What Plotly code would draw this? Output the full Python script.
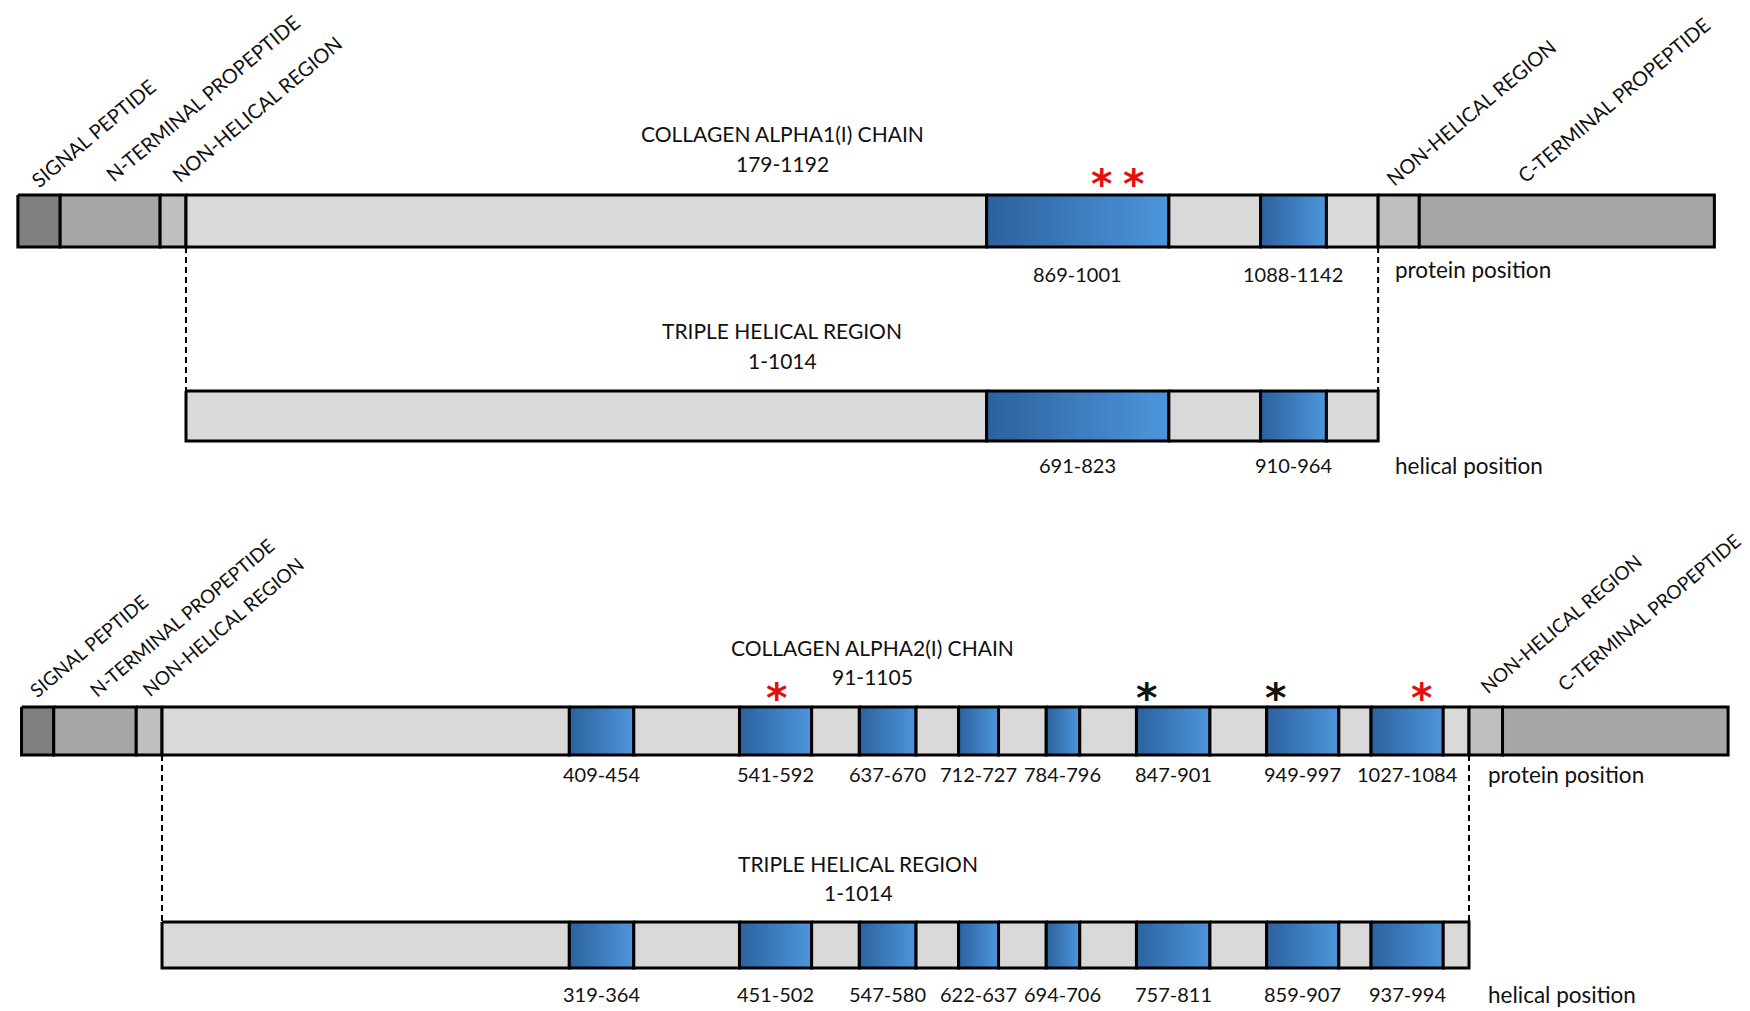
import plotly.graph_objects as go

# Collagen type I chains, drawn as segment maps.
# x units: helical residue positions (helix start = 0); non-helical parts are
# drawn widths (not to scale in the original).

N_TERM_NAMES = ["SIGNAL PEPTIDE", "N-TERMINAL PROPEPTIDE", "NON-HELICAL REGION"]
C_TERM_NAMES = ["NON-HELICAL REGION", "C-TERMINAL PROPEPTIDE"]
N_TERM_COLORS = ["#7f7f7f", "#a6a6a6", "#bfbfbf"]
C_TERM_COLORS = ["#bfbfbf", "#a6a6a6"]

# alpha1(I)
A1_TITLE = ["COLLAGEN ALPHA1(I) CHAIN", "179-1192"]
A1_N_TERM = [36, 85, 22]
A1_C_TERM = [35, 251]
A1_HELIX_EDGES = [0, 681, 836, 914, 970, 1014]
A1_PROTEIN_POS = ["869-1001", "1088-1142"]
A1_HELICAL_POS = ["691-823", "910-964"]
A1_STAR_X = [779, 806]
A1_STAR_COLOR = ["#e01010", "#e01010"]

# alpha2(I)
A2_TITLE = ["COLLAGEN ALPHA2(I) CHAIN", "91-1105"]
A2_N_TERM = [25, 64, 20]
A2_C_TERM = [26, 175]
A2_HELIX_EDGES = [0, 316, 366, 448, 504, 541, 585, 618, 649, 686, 712,
                  756, 813, 857, 913, 938, 994, 1014]
A2_PROTEIN_POS = ["409-454", "541-592", "637-670", "712-727", "784-796",
                  "847-901", "949-997", "1027-1084"]
A2_HELICAL_POS = ["319-364", "451-502", "547-580", "622-637", "694-706",
                  "757-811", "859-907", "937-994"]
A2_STAR_X = [477, 764, 864, 977]
A2_STAR_COLOR = ["#e01010", "#111111", "#111111", "#e01010"]

HELIX_TITLE = ["TRIPLE HELICAL REGION", "1-1014"]

LIGHT = "#d9d9d9"
BLUE_SCALE = [[0, "#2c619e"], [1, "#4d96dc"]]
TXT = "#111111"
FONT = "Lato"

# layout (paper pixels on the y axis)
CHAINS = [
    dict(xaxis="x", n=A1_N_TERM, c=A1_C_TERM, edges=A1_HELIX_EDGES,
         ppos=A1_PROTEIN_POS, hpos=A1_HELICAL_POS, title=A1_TITLE,
         stars=(A1_STAR_X, A1_STAR_COLOR),
         prow=(195, 247), hrow=(391, 441), title_y=(133, 163), star_y=184,
         hel_title_x=507, chain_title_x=507, hel_title_y=(330, 360),
         plab_y=274, hlab_y=465, ppos_dy=-5,
         name_x=[-79, 14, 60, 1093, 1214], name_y=[133, 98, 109, 112, 100],
         name_size=20),
    dict(xaxis="x2", n=A2_N_TERM, c=A2_C_TERM, edges=A2_HELIX_EDGES,
         ppos=A2_PROTEIN_POS, hpos=A2_HELICAL_POS, title=A2_TITLE,
         stars=(A2_STAR_X, A2_STAR_COLOR),
         prow=(707, 755), hrow=(922, 968), title_y=(647, 676), star_y=698,
         hel_title_x=540, chain_title_x=551, hel_title_y=(863, 892),
         plab_y=774, hlab_y=994, ppos_dy=0,
         name_x=[-57, 15, 47, 1085, 1153], name_y=[645, 617, 626, 623, 612],
         name_size=19),
]

fig = go.Figure()


def box(xa, x0, x1, y0, y1, color=None, gradient=False):
    tr = go.Scatter(x=[x0, x1, x1, x0, x0], y=[y0, y0, y1, y1, y0],
                    xaxis=xa, yaxis="y", mode="lines", fill="toself",
                    line=dict(color="black", width=3),
                    hoverinfo="skip", showlegend=False)
    if gradient:
        tr.fillgradient = dict(type="horizontal", colorscale=BLUE_SCALE)
    else:
        tr.fillcolor = color
    fig.add_trace(tr)


ann = []


def text(xr, x, y, s, size=21, color=TXT, angle=0, xanchor="center",
         weight="normal", family=FONT):
    ann.append(dict(xref=xr, yref="y", x=x, y=y, text=s, showarrow=False,
                    textangle=angle, xanchor=xanchor, yanchor="middle",
                    font=dict(family=family, size=size, color=color, weight=weight)))


for ch in CHAINS:
    xa = ch["xaxis"]
    edges = ch["edges"]
    end = edges[-1]

    # N-terminal pieces
    x = -sum(ch["n"])
    for w, col in zip(ch["n"], N_TERM_COLORS):
        box(xa, x, x + w, *ch["prow"], color=col)
        x += w
    # helical pieces on both rows
    for row in (ch["prow"], ch["hrow"]):
        for i in range(len(edges) - 1):
            box(xa, edges[i], edges[i + 1], *row, color=LIGHT, gradient=(i % 2 == 1))
    # C-terminal pieces
    x = end
    for w, col in zip(ch["c"], C_TERM_COLORS):
        box(xa, x, x + w, *ch["prow"], color=col)
        x += w

    # dashed links between rows
    for xv in (0, end):
        fig.add_trace(go.Scatter(x=[xv, xv], y=[ch["prow"][1], ch["hrow"][0]],
                                 xaxis=xa, yaxis="y", mode="lines",
                                 line=dict(color="black", width=2, dash="6px,4px"),
                                 hoverinfo="skip", showlegend=False))

    # region names, rotated
    names = N_TERM_NAMES + C_TERM_NAMES
    for s, nx, ny in zip(names, ch["name_x"], ch["name_y"]):
        text(xa, nx, ny, s, size=ch["name_size"], angle=-40)

    text(xa, ch["chain_title_x"], ch["title_y"][0], ch["title"][0])
    text(xa, ch["chain_title_x"], ch["title_y"][1], ch["title"][1])
    text(xa, ch["hel_title_x"], ch["hel_title_y"][0], HELIX_TITLE[0])
    text(xa, ch["hel_title_x"], ch["hel_title_y"][1], HELIX_TITLE[1])

    centers = [(edges[i] + edges[i + 1]) / 2 for i in range(1, len(edges) - 1, 2)]
    for cx, p, h in zip(centers, ch["ppos"], ch["hpos"]):
        text(xa, cx, ch["plab_y"], p, size=20)
        text(xa, cx, ch["hlab_y"], h, size=20)
    text(xa, end + 13, ch["plab_y"] + ch["ppos_dy"], "protein position",
         size=22.5, xanchor="left")
    text(xa, end + 13, ch["hlab_y"], "helical position", size=22.5, xanchor="left")

    for sx, sc in zip(*ch["stars"]):
        text(xa, sx, ch["star_y"], "*", size=41, color=sc, weight="bold",
             family="DejaVu Sans")

fig.update_layout(
    width=1750, height=1011,
    margin=dict(l=0, r=0, t=0, b=0),
    paper_bgcolor="white", plot_bgcolor="white",
    showlegend=False,
    xaxis=dict(range=[-158.2, 1330.3], visible=False, domain=[0, 1]),
    xaxis2=dict(range=[-125.7, 1232.0], visible=False, domain=[0, 1],
                overlaying="x", anchor="y"),
    yaxis=dict(range=[1011, 0], visible=False),
    annotations=ann,
)

fig.write_html("out.html", config={"displayModeBar": False},
               post_script="document.body.style.margin='0';")
